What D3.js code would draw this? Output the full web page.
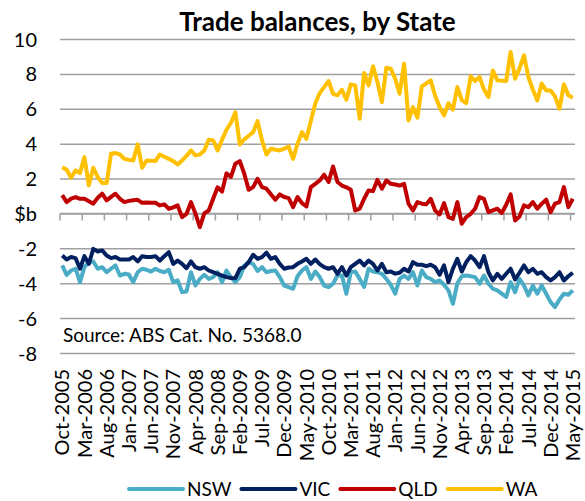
<!DOCTYPE html>
<html>
<head>
<meta charset="utf-8">
<script src="https://cdn.jsdelivr.net/npm/d3@7"></script>
<style>
    body { margin: 0; background: #fff; }
    text { font-family: Lato, "Open Sans", sans-serif; fill: #000; }
</style>
</head>
<body>
<div id="chart-area"></div>
<script>
// Categories: monthly, Oct-2005 .. May-2015
const formatMonth = d3.timeFormat("%b-%Y");
const months = d3.timeMonth.range(new Date(2005, 9, 1), new Date(2015, 5, 1)).map(formatMonth);
const labelMonths = months.filter((d, i) => i % 5 === 0);
const yTicks = [-8, -6, -4, -2, 0, 2, 4, 6, 8, 10];

// Trade balance, $b
const nsw = [-2.98,-3.52,-3.27,-3.17,-3.94,-3.08,-2.79,-2.75,-3.17,-3.08,
    -3.37,-3.17,-2.98,-3.56,-3.46,-3.5,-3.94,-3.37,-3.17,-3.23,
    -3.33,-3.17,-3.3,-3.37,-3.23,-3.94,-3.84,-4.51,-4.47,-3.37,
    -4.13,-3.75,-3.52,-3.75,-3.65,-3.37,-3.94,-3.27,-3.65,-3.94,
    -3.65,-3.0,-2.79,-2.9,-3.3,-3.08,-3.37,-3.3,-3.27,-3.65,
    -4.13,-4.22,-4.32,-3.6,-3.27,-3.08,-3.75,-3.33,-3.65,-4.13,
    -4.22,-4.03,-3.56,-3.56,-4.6,-3.37,-3.33,-3.75,-4.22,-3.17,
    -3.33,-3.37,-3.46,-3.75,-4.09,-4.6,-3.75,-3.56,-3.75,-3.37,
    -4.13,-3.27,-3.65,-3.75,-3.94,-3.84,-4.09,-4.41,-5.18,-4.0,
    -3.6,-3.56,-3.6,-3.65,-4.03,-3.56,-4.03,-4.32,-4.41,-4.6,
    -4.79,-3.94,-4.51,-3.75,-4.13,-4.7,-4.13,-4.6,-4.13,-4.6,
    -5.08,-5.37,-4.93,-4.6,-4.66,-4.41];
const vic = [-2.41,-2.64,-2.5,-2.56,-3.17,-2.45,-2.89,-2.03,-2.18,-2.12,
    -2.41,-2.56,-2.5,-2.64,-2.64,-2.64,-2.5,-2.75,-2.45,-2.5,
    -2.5,-2.45,-2.7,-2.45,-2.22,-2.89,-2.7,-2.89,-3.14,-2.75,
    -3.08,-3.17,-3.08,-3.27,-3.37,-3.46,-3.56,-3.65,-3.7,-3.71,
    -3.17,-3.08,-2.79,-2.37,-2.6,-2.5,-2.25,-2.6,-2.5,-2.89,
    -3.17,-3.1,-3.08,-2.89,-2.75,-2.6,-2.89,-2.64,-2.9,-3.08,
    -3.17,-3.08,-3.46,-3.08,-3.56,-3.08,-2.89,-2.7,-2.98,-2.7,
    -2.89,-3.27,-2.89,-3.37,-3.33,-3.45,-3.4,-3.17,-3.33,-2.79,
    -2.94,-2.94,-3.02,-2.94,-3.08,-3.52,-2.98,-3.94,-3.17,-2.6,
    -3.33,-2.79,-2.45,-2.7,-3.08,-2.45,-3.37,-3.84,-3.46,-3.75,
    -3.46,-3.17,-3.78,-3.4,-2.98,-3.37,-3.17,-3.46,-3.37,-3.65,
    -3.84,-3.65,-3.37,-3.84,-3.6,-3.4];
const qld = [1.05,0.65,0.85,0.94,0.84,0.84,0.7,0.56,0.9,1.13,
    0.75,0.95,1.13,0.84,0.65,0.72,0.75,0.78,0.61,0.63,
    0.62,0.61,0.46,0.52,0.27,0.35,0.46,-0.21,-0.02,0.65,
    0.0,-0.79,0.0,0.17,0.84,1.5,1.25,2.3,2.1,2.85,
    3.0,2.28,1.36,1.51,1.99,1.51,1.42,1.1,0.79,1.09,
    0.94,0.88,0.36,0.94,0.59,0.4,1.51,1.7,1.89,2.22,
    1.8,2.69,1.8,1.6,1.5,1.36,0.17,0.27,0.84,1.32,
    1.28,1.93,1.42,1.89,1.7,1.66,1.6,1.7,0.56,0.17,
    0.65,0.56,0.52,0.84,0.17,-0.06,0.59,-0.21,-0.31,0.65,
    -0.59,-0.21,-0.02,0.27,0.94,0.84,0.07,0.17,0.27,0.02,
    0.5,1.09,-0.4,-0.17,0.46,0.36,0.65,0.27,0.56,0.79,
    0.07,0.56,0.65,1.51,0.36,0.84];
const wa = [2.65,2.5,2.05,2.47,2.31,3.23,1.61,2.62,2.08,1.74,
    1.74,3.42,3.46,3.38,3.13,3.08,3.04,3.96,2.62,3.04,
    3.02,3.0,3.38,3.25,3.13,3.0,2.81,3.04,3.3,3.61,
    3.33,3.38,3.61,4.23,4.19,3.61,4.23,4.8,5.2,5.8,
    3.95,4.25,4.45,4.66,5.29,4.19,3.38,3.71,3.65,3.61,
    3.71,3.84,3.13,4.0,4.66,4.28,5.3,6.3,6.9,7.24,
    7.59,6.86,6.77,7.09,6.52,7.4,7.34,5.43,8.05,7.34,
    8.43,7.53,6.38,8.35,8.3,7.72,6.86,8.58,5.33,6.1,
    5.49,7.28,7.45,7.63,6.75,6.1,5.62,6.32,5.95,7.24,
    6.5,6.32,7.86,7.59,7.82,7.1,6.67,8.2,7.63,7.6,
    7.59,9.25,7.72,8.3,9.06,7.82,7.1,6.48,7.44,7.05,
    7.05,6.71,6.0,7.4,6.77,6.63];

const states = ["NSW", "VIC", "QLD", "WA"];
const seriesValues = [nsw, vic, qld, wa];
const colors = ["#4BACC6", "#002060", "#C00000", "#FFC000"];

const margin = { left: 60, right: 10, top: 39, bottom: 148 },
    width = 585 - margin.left - margin.right,
    height = 501 - margin.top - margin.bottom;

const svg = d3.select("#chart-area").append("svg")
    .attr("width", 585)
    .attr("height", 501);

const g = svg.append("g")
    .attr("transform", "translate(" + margin.left + "," + margin.top + ")");

// Scales
const x = d3.scaleBand().domain(months).range([0, width]).padding(0);
const y = d3.scaleLinear().domain([-8, 10]).range([height, 0]);

// Gridlines + y labels
const yAxisCall = d3.axisLeft(y)
    .tickValues(yTicks)
    .tickSize(-width)
    .tickPadding(23)
    .tickFormat(d => d === 0 ? "$b" : d);
const yAxis = g.append("g").attr("class", "y axis").call(yAxisCall);
yAxis.select(".domain").remove();
yAxis.selectAll(".tick line")
    .attr("stroke", "#a0a0a0")
    .attr("stroke-width", 1.5);
yAxis.selectAll(".tick text")
    .style("font-size", "20px")
    .attr("dy", "0.35em");

// Zero axis with tick marks between categories
const zeroAxis = g.append("g").attr("transform", "translate(0," + y(0) + ")");
zeroAxis.append("line")
    .attr("x1", 0).attr("x2", width)
    .attr("stroke", "#a0a0a0").attr("stroke-width", 1.5);
zeroAxis.selectAll(".tickmark").data(labelMonths).enter().append("line")
    .attr("class", "tickmark")
    .attr("x1", d => x(d)).attr("x2", d => x(d))
    .attr("y1", 0).attr("y2", 7)
    .attr("stroke", "#a0a0a0").attr("stroke-width", 1.5);

// Category labels at bottom
const xAxisCall = d3.axisBottom(x).tickValues(labelMonths).tickSize(0);
const xAxis = g.append("g")
    .attr("class", "x axis")
    .attr("transform", "translate(0," + (height + 16) + ")")
    .call(xAxisCall);
xAxis.select(".domain").remove();
xAxis.selectAll(".tick text")
    .style("font-size", "20px")
    .attr("text-anchor", "end")
    .attr("transform", "rotate(-90)")
    .attr("x", 0)
    .attr("y", 0)
    .attr("dy", "0.36em");

// Lines
const line = d3.line()
    .x((d, i) => x(months[i]) + x.bandwidth() / 2)
    .y(d => y(d));

seriesValues.forEach((vals, k) => {
    g.append("path")
        .attr("class", "line")
        .attr("fill", "none")
        .attr("stroke", colors[k])
        .attr("stroke-width", 4)
        .attr("stroke-linejoin", "round")
        .attr("d", line(vals));
});

// Title
svg.append("text")
    .attr("x", margin.left + width / 2)
    .attr("y", 31)
    .attr("text-anchor", "middle")
    .style("font-size", "26px")
    .style("font-weight", "bold")
    .text("Trade balances, by State");

// Source note
svg.append("text")
    .attr("x", 63)
    .attr("y", 342)
    .style("font-size", "19px")
    .text("Source: ABS Cat. No. 5368.0");

// Legend
const legend = svg.append("g").attr("transform", "translate(129,489)");
let lx = 0;
states.forEach((s, k) => {
    const item = legend.append("g").attr("transform", "translate(" + lx + ",0)");
    item.append("line")
        .attr("x1", 0).attr("x2", 54)
        .attr("stroke", colors[k])
        .attr("stroke-width", 4)
        .attr("stroke-linecap", "round");
    const t = item.append("text")
        .attr("x", 58)
        .attr("dy", "0.36em")
        .style("font-size", "19px")
        .text(s);
    lx += 58 + t.node().getComputedTextLength() + 10;
});
</script>
</body>
</html>
